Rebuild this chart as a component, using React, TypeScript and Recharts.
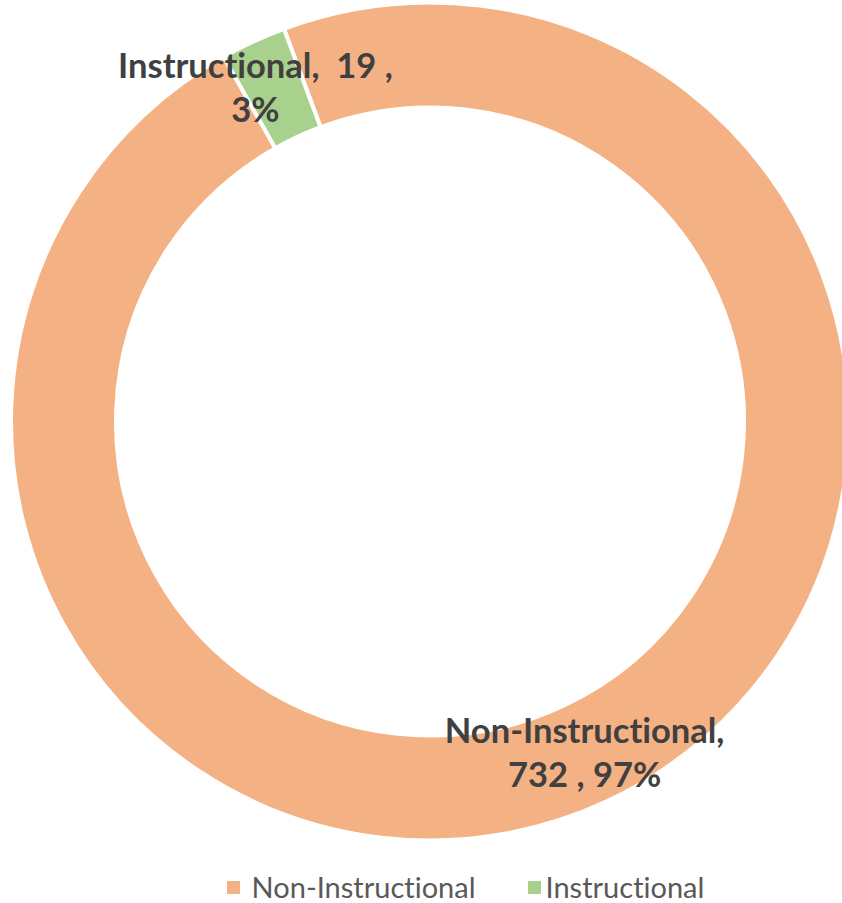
import React from 'react';
import { PieChart, Pie, Cell, Legend } from 'recharts';

const categories = ['Non-Instructional', 'Instructional'];
const counts = [732, 19];
const colors = ['#F4B183', '#A9D18E'];
// where each data label wraps: after the name, or after the value
const labelWrap = ['name', 'value'];
// horizontal nudge of each data label from its slice centre
const labelNudge = [0, -20];

const total = counts.reduce((a, b) => a + b, 0);
const data = categories.map((name, i) => ({
  name,
  value: counts[i],
  pct: Math.round((counts[i] / total) * 100),
  wrap: labelWrap[i],
  nudge: labelNudge[i],
}));

const RAD = Math.PI / 180;
const FONT = 'Lato, "Open Sans", sans-serif';
const NB = '\u00A0';

const renderLabel = (props: any) => {
  const { cx, cy, midAngle, innerRadius, outerRadius, payload } = props;
  const p = payload && payload.payload ? payload.payload : payload;
  const r = (innerRadius + outerRadius) / 2;
  const x = cx + r * Math.cos(-midAngle * RAD) + (p.nudge || 0);
  const y = cy + r * Math.sin(-midAngle * RAD);
  const lines =
    p.wrap === 'name'
      ? [`${p.name},`, `${p.value}${NB},${NB}${p.pct}%`]
      : [`${p.name},${NB}${NB}${p.value}${NB},`, `${p.pct}%`];
  return (
    <text
      x={x}
      y={y}
      textAnchor="middle"
      fill="#404040"
      fontFamily={FONT}
      fontWeight={700}
      fontSize={34.5}
      style={{ fontVariantLigatures: 'none' }}
    >
      <tspan x={x} y={y - 11}>{lines[0]}</tspan>
      <tspan x={x} y={y + 33}>{lines[1]}</tspan>
    </text>
  );
};

const LegendContent = () => (
  <div
    style={{
      display: 'flex',
      justifyContent: 'center',
      alignItems: 'center',
      width: 842,
      height: 28,
      boxSizing: 'border-box',
      paddingLeft: 89,
      fontFamily: FONT,
      fontSize: 29,
      lineHeight: '28px',
      color: '#595959',
      fontVariantLigatures: 'none',
    }}
  >
    {data.map((d, i) => (
      <div
        key={d.name}
        style={{ display: 'flex', alignItems: 'center', marginLeft: i === 0 ? 0 : 52 }}
      >
        <span
          style={{
            display: 'inline-block',
            width: 13,
            height: 13,
            background: colors[i],
            marginRight: i === 0 ? 12 : 5,
          }}
        />
        <span>{d.name}</span>
      </div>
    ))}
  </div>
);

export default function App() {
  return (
    <div
      style={{
        position: 'absolute',
        left: 0,
        top: 0,
        width: 842,
        height: 903,
        overflow: 'hidden',
        background: '#fff',
      }}
    >
      <PieChart width={842} height={903} margin={{ top: 0, right: 0, bottom: 0, left: 0 }}>
        <Pie
          data={data}
          dataKey="value"
          nameKey="name"
          cx={430}
          cy={421.5}
          innerRadius={314}
          outerRadius={419}
          startAngle={110.4}
          endAngle={-249.6}
          stroke="#ffffff"
          strokeWidth={4}
          label={renderLabel}
          labelLine={false}
          isAnimationActive={false}
        >
          {data.map((d, i) => (
            <Cell key={d.name} fill={colors[i]} />
          ))}
        </Pie>
        <Legend
          content={<LegendContent />}
          wrapperStyle={{ left: 0, top: 873, width: 842, height: 28, bottom: 'auto' }}
        />
      </PieChart>
    </div>
  );
}
